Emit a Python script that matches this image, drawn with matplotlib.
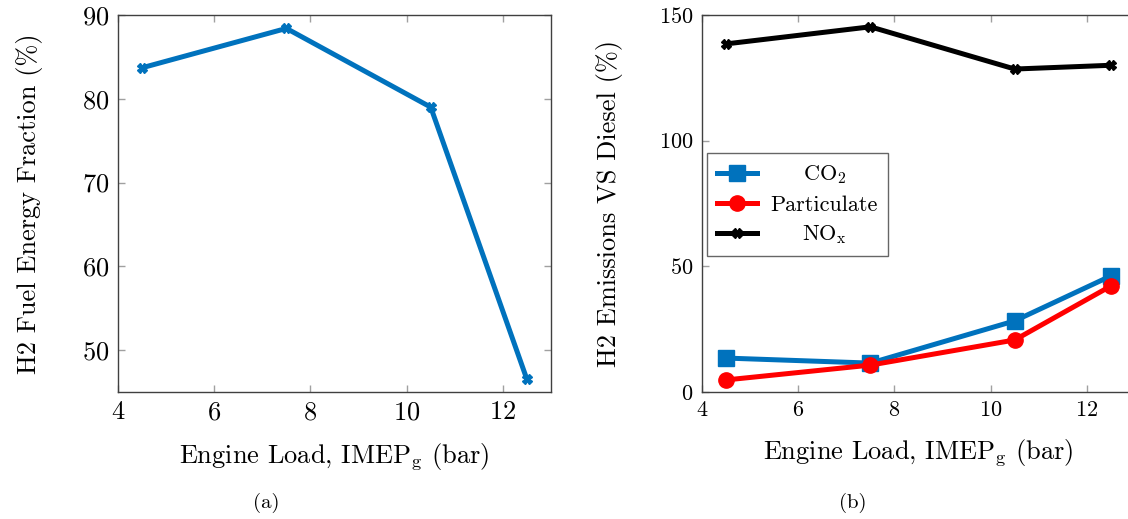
import matplotlib

matplotlib.use("Agg")
import matplotlib.pyplot as plt
from matplotlib.transforms import Affine2D

# engine load (bar)
load = [4.5, 7.5, 10.5, 12.5]

# (a) H2 fuel energy fraction (%)
h2_fraction = [83.7, 88.4, 79.0, 46.5]

# (b) H2 emissions vs diesel (%)
co2 = [13.5, 11.5, 28.3, 46.2]
particulate = [4.8, 10.7, 20.7, 42.2]
nox = [138.5, 145.3, 128.5, 130.0]

plt.rcParams["font.family"] = ["cmr10", "DejaVu Serif"]
plt.rcParams["mathtext.fontset"] = "cm"
plt.rcParams["axes.unicode_minus"] = False
plt.rcParams["axes.formatter.use_mathtext"] = True

W, H = 1128, 519
fig = plt.figure(figsize=(W / 100, H / 100), dpi=100)


def px_axes(x0, y0, x1, y1):
    return fig.add_axes([x0 / W, 1 - y1 / H, (x1 - x0) / W, (y1 - y0) / H])


def style(ax, size):
    for s in ax.spines.values():
        s.set_color("#404040")
        s.set_linewidth(1.0)
    ax.tick_params(
        direction="in", length=5, width=1, color="#a0a0a0",
        top=True, right=True, labelsize=size, pad=6,
    )


blue = "#0072BD"
xlabel = r"Engine Load, IMEP$_\mathrm{g}$ (bar)"

ax1 = px_axes(118, 15, 551, 392)
ax1.plot(load, h2_fraction, color=blue, lw=3.6, marker="X", ms=7)
ax1.set_xlim(4, 13)
ax1.set_ylim(45, 90)
ax1.set_xticks([4, 6, 8, 10, 12])
ax1.set_yticks([50, 60, 70, 80, 90])
style(ax1, 19)
ax1.set_xlabel(xlabel, fontsize=19, labelpad=12)
ax1.set_ylabel("H2 Fuel Energy Fraction (%)", fontsize=19, labelpad=28)

ax2 = px_axes(702, 15, 1135, 392)
ax2.plot(load, co2, color=blue, lw=3.6, marker="s", ms=11, label=r"CO$_2$")
ax2.plot(load, particulate, color="#FF0000", lw=3.6, marker="o", ms=11,
         label="Particulate")
ax2.plot(load, nox, color="black", lw=3.6, marker="X", ms=7,
         label=r"NO$_\mathrm{x}$")
ax2.set_xlim(4, 13)
ax2.set_ylim(0, 150)
ax2.set_xticks([4, 6, 8, 10, 12])
ax2.set_yticks([0, 50, 100, 150])
style(ax2, 16)
ax2.set_xlabel(xlabel, fontsize=19, labelpad=12)
ax2.set_ylabel("H2 Emissions VS Diesel (%)", fontsize=19, labelpad=26)
leg = ax2.legend(
    loc="upper left", bbox_to_anchor=(0.012, 0.633), fontsize=16,
    frameon=True, fancybox=False, edgecolor="#404040", handlelength=1.8,
    borderpad=0.45, labelspacing=0.4, borderaxespad=0, handletextpad=0.6,
)
leg.get_frame().set_linewidth(1.0)

fig.text(266 / W, 1 - 503 / H, "(a)", ha="center", va="center", fontsize=15)
fig.text(853 / W, 1 - 503 / H, "(b)", ha="center", va="center", fontsize=15)

# legend entries are centred in their column, like pgfplots
fig.canvas.draw()
texts = leg.get_texts()
widths = [t.get_window_extent().width for t in texts]
for t, w in zip(texts, widths):
    dx = (max(widths) - w) / 2
    t.set_transform(t.get_transform() + Affine2D().translate(dx, 0))

fig.savefig("out.png", dpi=100)
